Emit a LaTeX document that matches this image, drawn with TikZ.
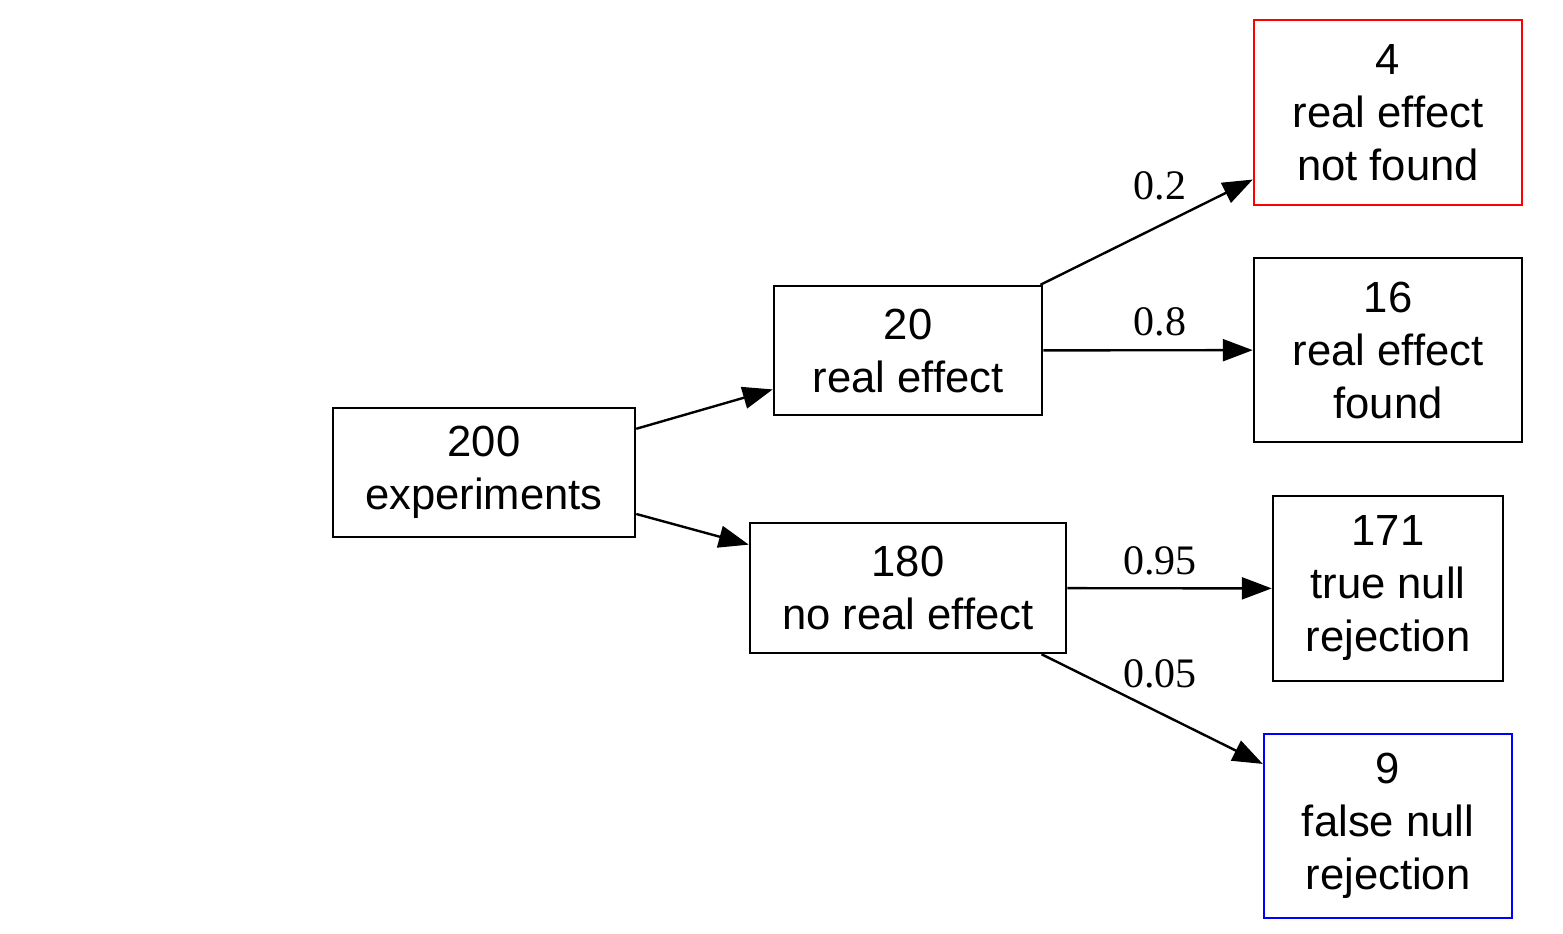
\documentclass[tikz,border=0pt]{standalone}
\usepackage{fontspec}
\setmainfont{Liberation Sans}
\newfontfamily\labelfont{Liberation Serif}
\usetikzlibrary{arrows.meta}
\begin{document}
\begin{tikzpicture}[x=0.5pt,y=-0.5pt,
  box/.style={draw,line width=1.25pt,inner sep=0pt,align=center,
    font=\fontsize{21.8pt}{26.5pt}\selectfont},
  conn/.style={line width=1.2pt,-{Triangle[length=15pt,width=11pt]}},
  elabel/.style={font=\labelfont\fontsize{21pt}{25pt}\selectfont,inner sep=0pt}]
\useasboundingbox (0,0) rectangle (1563,933);
\node[box,minimum width=151pt,minimum height=64.5pt] (A) at (484,472.5) {200\\experiments};
\node[box,minimum width=134pt,minimum height=64.5pt] (B) at (908,350.5) {20\\real effect};
\node[box,minimum width=158pt,minimum height=65pt] (C) at (908,588) {180\\no real effect};
\node[box,draw=red,minimum width=134pt,minimum height=92.5pt] (D) at (1388,112.5) {4\\real effect\\not found};
\node[box,minimum width=134pt,minimum height=92pt] (E) at (1388,350) {16\\real effect\\found};
\node[box,minimum width=115pt,minimum height=92.5pt] (F) at (1388,588.5) {171\\true null\\rejection};
\node[box,draw=blue,minimum width=124pt,minimum height=92pt] (G) at (1388,826) {9\\false null\\rejection};
\draw[conn] (A) -- (B);
\draw[conn] (A) -- (C);
\draw[conn] (B) -- (D);
\draw[conn] (B) -- (E);
\draw[conn] (C) -- (F);
\draw[conn] (C) -- (G);
\node[elabel] (l1) at (1160,186) {0.2};
\node[elabel] (l2) at (1160,322) {0.8};
\node[elabel] (l3) at (1160,561) {0.95};
\node[elabel] (l4) at (1160,674) {0.05};
\end{tikzpicture}
\end{document}
